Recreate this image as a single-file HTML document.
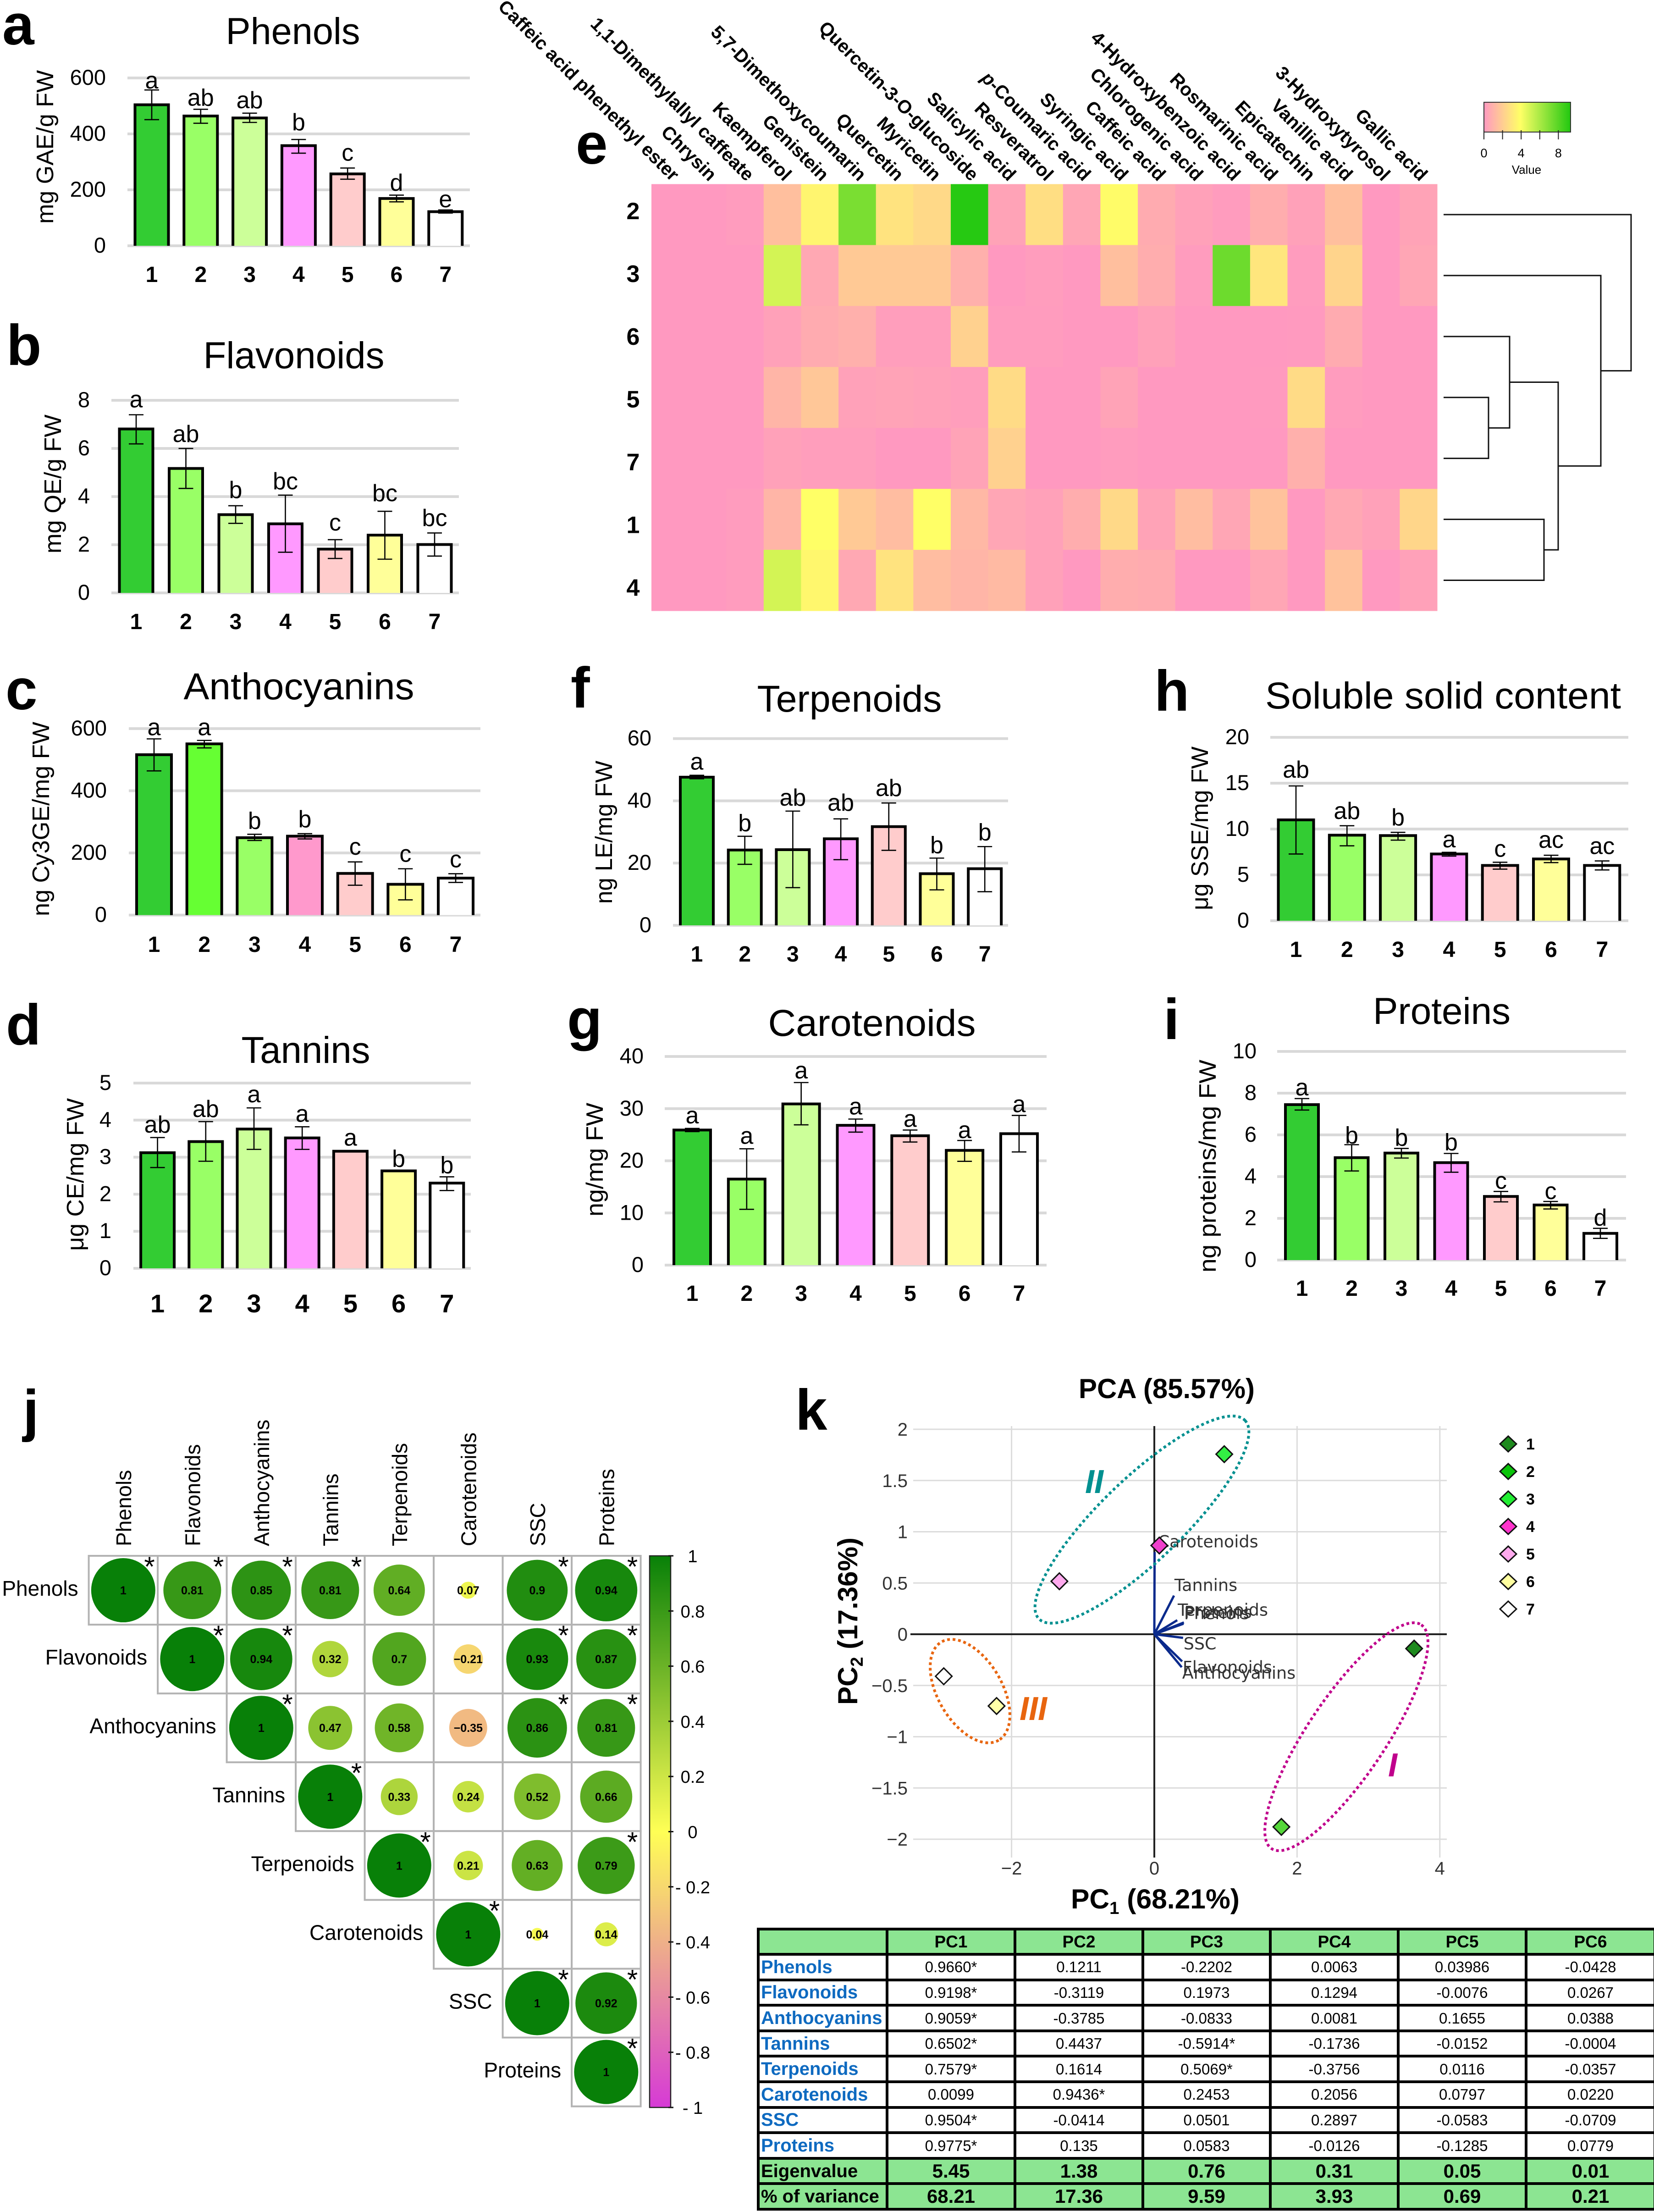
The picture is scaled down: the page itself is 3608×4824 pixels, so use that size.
<!DOCTYPE html>
<html lang="en">
<head>
<meta charset="utf-8">
<title>Phytochemical composition figure</title>
<style>
html,body{margin:0;padding:0;background:#fff;}
#page{position:relative;width:3608px;height:4824px;overflow:hidden;background:#fff;font-family:"Liberation Sans",sans-serif;}
#fig{position:absolute;left:0;top:0;}
svg text{font-family:"Liberation Sans",sans-serif;fill:#000;}
.pl{font-size:125px;font-weight:bold;}
.ti{font-size:82px;text-anchor:middle;}
.yt{font-size:52px;}
#pca-table{position:absolute;left:1651px;top:4203.5px;width:1956px;border-collapse:collapse;table-layout:fixed;font-family:"Liberation Sans",sans-serif;}
#pca-table tr{height:55.6px;}
#pca-table td{border:6px solid #000;padding:0;font-size:33px;line-height:1;text-align:center;vertical-align:middle;white-space:nowrap;overflow:hidden;background:#fff;color:#000;}
#pca-table tr.g td{background:#8ce592;}
#pca-table tr.h td{font-weight:bold;font-size:37px;}
#pca-table tr.e td{font-weight:bold;font-size:42px;}
#pca-table td.l{text-align:left;padding-left:3px;font-size:40px;font-weight:bold;color:#0e6ac0;}
#pca-table tr.e td.l{color:#000;font-size:40px;}
</style>
</head>
<body>
<div id="page">
<svg id="fig" width="3608" height="4824" viewBox="0 0 3608 4824" xmlns="http://www.w3.org/2000/svg">
<defs>
<linearGradient id="heatKeyGrad" x1="0" x2="1" y1="0" y2="0"><stop offset="0" stop-color="#ff99c0"/><stop offset="0.42" stop-color="#ffff66"/><stop offset="1" stop-color="#22c810"/></linearGradient>
<linearGradient id="corrGrad" x1="0" x2="0" y1="0" y2="1"><stop offset="0" stop-color="#088008"/><stop offset="0.5" stop-color="#ffff55"/><stop offset="1" stop-color="#d63ad6"/></linearGradient>
</defs>

<g id="chart-a">
<text class="pl" x="5" y="97">a</text>
<text class="ti" x="639" y="96" textLength="293" lengthAdjust="spacingAndGlyphs">Phenols</text>
<text class="yt" transform="rotate(-90 116 488)" x="116" y="488" textLength="335" lengthAdjust="spacingAndGlyphs">mg GAE/g FW</text>
</g>
<g id="chart-b">
<text class="pl" x="14" y="796">b</text>
<text class="ti" x="641" y="803" textLength="395" lengthAdjust="spacingAndGlyphs">Flavonoids</text>
<text class="yt" transform="rotate(-90 133 1207)" x="133" y="1207" textLength="303" lengthAdjust="spacingAndGlyphs">mg QE/g FW</text>
</g>
<g id="chart-c">
<text class="pl" x="12" y="1547">c</text>
<text class="ti" x="652" y="1525" textLength="503" lengthAdjust="spacingAndGlyphs">Anthocyanins</text>
<text class="yt" transform="rotate(-90 107 1998)" x="107" y="1998" textLength="424" lengthAdjust="spacingAndGlyphs">ng Cy3GE/mg FW</text>
</g>
<g id="chart-d">
<text class="pl" x="13" y="2278">d</text>
<text class="ti" x="667" y="2318" textLength="281" lengthAdjust="spacingAndGlyphs">Tannins</text>
<text class="yt" transform="rotate(-90 182 2728)" x="182" y="2728" textLength="333" lengthAdjust="spacingAndGlyphs">μg CE/mg FW</text>
</g>
<g id="chart-f">
<text class="pl" x="1245" y="1543">f</text>
<text class="ti" x="1853" y="1552" textLength="403" lengthAdjust="spacingAndGlyphs">Terpenoids</text>
<text class="yt" transform="rotate(-90 1335 1971)" x="1335" y="1971" textLength="312" lengthAdjust="spacingAndGlyphs">ng LE/mg FW</text>
</g>
<g id="chart-g">
<text class="pl" x="1237" y="2266">g</text>
<text class="ti" x="1902" y="2259" textLength="453" lengthAdjust="spacingAndGlyphs">Carotenoids</text>
<text class="yt" transform="rotate(-90 1315 2653)" x="1315" y="2653" textLength="248" lengthAdjust="spacingAndGlyphs">ng/mg FW</text>
</g>
<g id="chart-h">
<text class="pl" x="2518" y="1550">h</text>
<text class="ti" x="3148" y="1545" textLength="776" lengthAdjust="spacingAndGlyphs">Soluble solid content</text>
<text class="yt" transform="rotate(-90 2635 1985)" x="2635" y="1985" textLength="357" lengthAdjust="spacingAndGlyphs">μg SSE/mg FW</text>
</g>
<g id="chart-i">
<text class="pl" x="2538" y="2266">i</text>
<text class="ti" x="3145" y="2233" textLength="300" lengthAdjust="spacingAndGlyphs">Proteins</text>
<text class="yt" transform="rotate(-90 2652 2775)" x="2652" y="2775" textLength="464" lengthAdjust="spacingAndGlyphs">ng proteins/mg FW</text>
</g>

<g id="heatmap">
<text class="pl" x="1256" y="357">e</text>
<rect x="3237" y="223" width="189" height="65" fill="url(#heatKeyGrad)" stroke="#333" stroke-width="2"/>
<text x="3330" y="379" font-size="26" text-anchor="middle">Value</text>
</g>

<g id="corr">
<text class="pl" x="50" y="3119">j</text>
<rect x="1417" y="3393" width="46" height="1203" fill="url(#corrGrad)" stroke="#222" stroke-width="2.5"/>
</g>

<g id="pca">
<text class="pl" x="1735" y="3118">k</text>
<text x="2545" y="3049" font-size="60" font-weight="bold" text-anchor="middle" textLength="384" lengthAdjust="spacingAndGlyphs">PCA (85.57%)</text>
<text x="2336" y="4162" font-size="60" font-weight="bold" textLength="368" lengthAdjust="spacingAndGlyphs">PC<tspan font-size="38" dy="12">1</tspan><tspan dy="-12"> (68.21%)</tspan></text>
<text transform="rotate(-90 1870 3718)" x="1870" y="3718" font-size="60" font-weight="bold" textLength="365" lengthAdjust="spacingAndGlyphs">PC<tspan font-size="38" dy="12">2</tspan><tspan dy="-12"> (17.36%)</tspan></text>
</g>
</svg>

<table id="pca-table">
<colgroup><col style="width:281px"><col style="width:279px"><col style="width:279px"><col style="width:278px"><col style="width:279px"><col style="width:279px"><col style="width:281px"></colgroup>
<tr class="g h"><td></td><td>PC1</td><td>PC2</td><td>PC3</td><td>PC4</td><td>PC5</td><td>PC6</td></tr>
<tr><td class="l">Phenols</td><td>0.9660*</td><td>0.1211</td><td>-0.2202</td><td>0.0063</td><td>0.03986</td><td>-0.0428</td></tr>
<tr><td class="l">Flavonoids</td><td>0.9198*</td><td>-0.3119</td><td>0.1973</td><td>0.1294</td><td>-0.0076</td><td>0.0267</td></tr>
<tr><td class="l">Anthocyanins</td><td>0.9059*</td><td>-0.3785</td><td>-0.0833</td><td>0.0081</td><td>0.1655</td><td>0.0388</td></tr>
<tr><td class="l">Tannins</td><td>0.6502*</td><td>0.4437</td><td>-0.5914*</td><td>-0.1736</td><td>-0.0152</td><td>-0.0004</td></tr>
<tr><td class="l">Terpenoids</td><td>0.7579*</td><td>0.1614</td><td>0.5069*</td><td>-0.3756</td><td>0.0116</td><td>-0.0357</td></tr>
<tr><td class="l">Carotenoids</td><td>0.0099</td><td>0.9436*</td><td>0.2453</td><td>0.2056</td><td>0.0797</td><td>0.0220</td></tr>
<tr><td class="l">SSC</td><td>0.9504*</td><td>-0.0414</td><td>0.0501</td><td>0.2897</td><td>-0.0583</td><td>-0.0709</td></tr>
<tr><td class="l">Proteins</td><td>0.9775*</td><td>0.135</td><td>0.0583</td><td>-0.0126</td><td>-0.1285</td><td>0.0779</td></tr>
<tr class="g e"><td class="l">Eigenvalue</td><td>5.45</td><td>1.38</td><td>0.76</td><td>0.31</td><td>0.05</td><td>0.01</td></tr>
<tr class="g e"><td class="l">% of variance</td><td>68.21</td><td>17.36</td><td>9.59</td><td>3.93</td><td>0.69</td><td>0.21</td></tr>
</table>
</div>

<script>
// ---------- Bar chart data ----------
const barCategories = ['1','2','3','4','5','6','7'];

const phenolsTicks = [0,200,400,600];
const phenolsValues = [504,464,457,358,257,169,122];
const phenolsHigh = [557,488,474,380,278,181,128];
const phenolsLow = [451,438,441,331,238,157,117];
const phenolsLetters = ['a','ab','ab','b','c','d','e'];

const flavonoidsTicks = [0,2,4,6,8];
const flavonoidsValues = [6.81,5.17,3.25,2.87,1.82,2.40,2.01];
const flavonoidsHigh = [7.40,6.0,3.62,4.06,2.21,3.39,2.49];
const flavonoidsLow = [6.19,4.34,2.89,1.69,1.43,1.40,1.53];
const flavonoidsLetters = ['a','ab','b','bc','c','bc','bc'];

const anthocyaninsTicks = [0,200,400,600];
const anthocyaninsValues = [516,551,249,254,134,99,119];
const anthocyaninsHigh = [567,562,260,262,171,149,133];
const anthocyaninsLow = [464,538,240,245,96,49,105];
const anthocyaninsLetters = ['a','a','b','b','c','c','c'];

const tanninsTicks = [0,1,2,3,4,5];
const tanninsValues = [3.12,3.42,3.76,3.52,3.16,2.63,2.30];
const tanninsHigh = [3.53,3.96,4.33,3.82,3.16,2.63,2.47];
const tanninsLow = [2.72,2.89,3.21,3.21,3.16,2.63,2.10];
const tanninsLetters = ['ab','ab','a','a','a','b','b'];

const terpenoidsTicks = [0,20,40,60];
const terpenoidsValues = [47.6,24.2,24.3,27.8,31.7,16.6,18.2];
const terpenoidsHigh = [48.2,28.6,36.7,34.2,39.3,21.6,25.3];
const terpenoidsLow = [47.1,19.6,12.1,21.1,24.1,11.4,10.8];
const terpenoidsLetters = ['a','b','ab','ab','ab','b','b'];

const carotenoidsTicks = [0,10,20,30,40];
const carotenoidsValues = [25.9,16.5,30.9,26.8,24.8,22.0,25.2];
const carotenoidsHigh = [26.2,22.3,35.0,28.0,25.9,23.9,28.7];
const carotenoidsLow = [25.6,10.7,26.9,25.5,23.6,19.9,21.7];
const carotenoidsLetters = ['a','a','a','a','a','a','a'];

const sscTicks = [0,5,10,15,20];
const sscValues = [11.0,9.33,9.29,7.28,6.03,6.74,6.03];
const sscHigh = [14.7,10.36,9.64,7.46,6.38,7.14,6.52];
const sscLow = [7.28,8.17,8.79,7.05,5.63,6.34,5.54];
const sscLetters = ['ab','ab','b','a','c','ac','ac'];

const proteinsTicks = [0,2,4,6,8,10];
const proteinsValues = [7.45,4.91,5.13,4.67,3.05,2.64,1.28];
const proteinsHigh = [7.74,5.53,5.35,5.11,3.29,2.81,1.52];
const proteinsLow = [7.19,4.27,4.89,4.21,2.79,2.45,1.04];
const proteinsLetters = ['a','b','b','b','c','c','d'];

const barColors = ['#33cc33','#99ff66','#ccff99','#ff99ff','#ffcccc','#ffff99','#ffffff'];
const anthocyaninsColors = ['#33cc33','#66ff33','#99ff66','#ff99cc','#ffcccc','#ffff99','#ffffff'];

// ---------- Heatmap data ----------
const heatRows = ['2','3','6','5','7','1','4'];
const heatCols = ['Caffeic acid phenethyl ester','Chrysin','1,1-Dimethylallyl caffeate','Kaempferol','Genistein','5,7-Dimethoxycoumarin','Quercetin','Myricetin','Quercetin-3-O-glucoside','Salicylic acid','Resveratrol','p-Coumaric acid','Syringic acid','Caffeic acid','Chlorogenic acid','4-Hydroxybenzoic acid','Rosmarinic acid','Epicatechin','Vanillic acid','3-Hydroxytyrosol','Gallic acid'];
const heatRow2 = [0,0,0.1,1.5,3.6,7.0,2.9,2.5,8.9,0.4,2.7,0.5,3.9,0.7,0.3,0.1,0.8,0.3,1.5,0,0.4];
const heatRow3 = [0,0,0,5.0,0.6,1.9,1.9,1.9,0.9,0,0.15,0,1.5,0.8,0.1,7.3,3.0,0.1,2.3,0,0.5];
const heatRow6 = [0,0,0,0.3,0.7,0.9,0.2,0.2,2.2,0.1,0.1,0,0,0.3,0,0,0,0.05,0.7,0,0];
const heatRow5 = [0,0,0,1.1,1.8,0.3,0.4,0.3,0.2,2.6,0,0,0.4,0,0,0,0.05,2.6,0.1,0,0];
const heatRow7 = [0,0,0,0.3,0.2,0.2,0,0,0.4,2.2,0,0,0.1,0,0,0,0,0.9,0,0,0];
const heatRow1 = [0,0,0.1,1.1,4,1.9,1.4,4,1.2,0.5,0.3,0.8,2.5,0.4,1.4,0.5,1.6,0,0.6,0.3,2.4];
const heatRow4 = [0,0,0.1,5,3.7,0.6,2.9,1.4,1.1,1.3,0.3,0,0.8,0.7,0,0,0.5,0,1.6,0,0.3];
const heatKeyTicks = [0,2,4,6,8];
const heatKeyLabels = ['0','','4','','8'];
const dendroMergeLeft = [3,2,5,8,1,0];
const dendroMergeRight = [4,7,6,9,10,11];
const dendroMergeHeight = [0.98,1.44,2.19,2.50,3.43,4.09];

// ---------- Correlation data ----------
const corrLabels = ['Phenols','Flavonoids','Anthocyanins','Tannins','Terpenoids','Carotenoids','SSC','Proteins'];
const corrValues = [
 [1,0.81,0.85,0.81,0.64,0.07,0.9,0.94],
 [1,0.94,0.32,0.7,-0.21,0.93,0.87],
 [1,0.47,0.58,-0.35,0.86,0.81],
 [1,0.33,0.24,0.52,0.66],
 [1,0.21,0.63,0.79],
 [1,0.04,0.14],
 [1,0.92],
 [1]];
const corrSignificant = [
 [1,1,1,1,0,0,1,1],
 [1,1,0,0,0,1,1],
 [1,0,0,0,1,1],
 [1,0,0,0,0],
 [1,0,0,1],
 [1,0,0],
 [1,1],
 [1]];
const corrBarTicks = [1,0.8,0.6,0.4,0.2,0,-0.2,-0.4,-0.6,-0.8,-1];
const corrBarLabels = ['1','0.8','0.6','0.4','0.2','0','- 0.2','- 0.4','- 0.6','- 0.8','- 1'];

// ---------- PCA data ----------
const pcaXTicks = [-2,0,2,4];
const pcaXTickLabels = ['−2','0','2','4'];
const pcaYTicks = [2,1.5,1,0.5,0,-0.5,-1,-1.5,-2];
const pcaYTickLabels = ['2','1.5','1','0.5','0','−0.5','−1','−1.5','−2'];
const pcaSamples = ['1','2','3','4','5','6','7'];
const pcaScoreX = [3.64,1.78,0.98,0.07,-1.33,-2.21,-2.95];
const pcaScoreY = [-0.14,-1.88,1.757,0.866,0.517,-0.70,-0.41];
const pcaPointColors = ['#1e8a1e','#55d63a','#33ee44','#f040cc','#ffaaee','#ffffa8','#ffffff'];
const pcaLegendColors = ['#1e8a1e','#0bc40b','#22ee33','#ff33cc','#ffaaee','#ffffa0','#ffffff'];
const pcaVars = ['Phenols','Flavonoids','Anthocyanins','Tannins','Terpenoids','Carotenoids','SSC','Proteins'];
const pcaLoadPC1 = [0.9660,0.9198,0.9059,0.6502,0.7579,0.0099,0.9504,0.9775];
const pcaLoadPC2 = [0.1211,-0.3119,-0.3785,0.4437,0.1614,0.9436,-0.0414,0.135];

// ---------- Helpers ----------
const NS = 'http://www.w3.org/2000/svg';
function mk(parent, tag, attrs, text){
  const el = document.createElementNS(NS, tag);
  for (const k in attrs) el.setAttribute(k, attrs[k]);
  if (text !== undefined) el.textContent = text;
  parent.appendChild(el);
  return el;
}

function drawBars(groupId, key, L, ticks, values, high, low, letters, colors){
  const g = document.getElementById(groupId);
  const yTop = L.yTop, yZero = L.yZero, maxTick = ticks[ticks.length-1];
  const yScale = v => yZero - (v / maxTick) * (yZero - yTop);
  const xScale = i => L.first + L.step * i;
  ticks.forEach(function(t){
    const line = mk(g, 'line', {x1:L.x0, x2:L.x1, y1:yScale(t), y2:yScale(t), stroke:'#d9d9d9', 'stroke-width':6});
    
    
    const lab = mk(g, 'text', {x:L.tickRight, y:yScale(t)+15, 'font-size':47, 'text-anchor':'end'}, String(t));
    
    
  });
  barCategories.forEach(function(c, i){
    const cx = xScale(i), w = L.barW, top = yScale(values[i]);
    const bar = mk(g, 'path', {d:'M'+(cx-w/2)+' '+yZero+'V'+top+'H'+(cx+w/2)+'V'+yZero, fill:colors[i], stroke:'#000', 'stroke-width':6});
    
    
    const yh = yScale(high[i]), yl = yScale(low[i]);
    if (high[i] !== low[i]) {
      const err = mk(g, 'path', {d:'M'+cx+' '+yh+'V'+yl+'M'+(cx-16)+' '+yh+'H'+(cx+16)+'M'+(cx-16)+' '+yl+'H'+(cx+16), fill:'none', stroke:'#000', 'stroke-width':2.6});
      
      
    }
    const letter = mk(g, 'text', {x:cx+(L.ldx||0), y:yh-L.lift[i], 'font-size':52, 'text-anchor':'middle'}, letters[i]);
    
    
    const xl = mk(g, 'text', {x:cx, y:L.xLabelY+17, 'font-size':L.xFont||48, 'font-weight':'bold', 'text-anchor':'middle'}, c);
    
    
  });
}

drawBars('chart-a','phenols',{x0:278,x1:1025,yTop:170,yZero:536,first:331,step:106.8,barW:73,tickRight:231,xLabelY:598,lift:[3,8,11,20,16,9.5,6]},phenolsTicks,phenolsValues,phenolsHigh,phenolsLow,phenolsLetters,barColors);
drawBars('chart-b','flavonoids',{x0:243,x1:1001,yTop:873,yZero:1293,first:297,step:108.5,barW:73,tickRight:196,xLabelY:1355,lift:[16,14,17,13,20,22,15.5]},flavonoidsTicks,flavonoidsValues,flavonoidsHigh,flavonoidsLow,flavonoidsLetters,barColors);
drawBars('chart-c','anthocyanins',{x0:281,x1:1048,yTop:1589,yZero:1995.6,first:336,step:109.67,barW:76,tickRight:233,xLabelY:2059,lift:[8,11.5,12,14,15.5,15,14]},anthocyaninsTicks,anthocyaninsValues,anthocyaninsHigh,anthocyaninsLow,anthocyaninsLetters,anthocyaninsColors);
drawBars('chart-d','tannins',{x0:291,x1:1027,yTop:2362,yZero:2766,first:343.6,step:105.2,barW:73,tickRight:243,xLabelY:2845,xFont:56,lift:[11,10,12,11,12,9,8]},tanninsTicks,tanninsValues,tanninsHigh,tanninsLow,tanninsLetters,barColors);
drawBars('chart-f','terpenoids',{x0:1468,x1:2199,yTop:1610.7,yZero:2018,first:1520,step:104.7,barW:72,tickRight:1421,xLabelY:2080,lift:[12.5,11.5,12,18,15,11,14]},terpenoidsTicks,terpenoidsValues,terpenoidsHigh,terpenoidsLow,terpenoidsLetters,barColors);
drawBars('chart-g','carotenoids',{x0:1450,x1:2283,yTop:2304,yZero:2759,first:1510,step:118.83,barW:80,tickRight:1404,xLabelY:2820,lift:[11,11,9,10,7,5,7]},carotenoidsTicks,carotenoidsValues,carotenoidsHigh,carotenoidsLow,carotenoidsLetters,barColors);
drawBars('chart-h','ssc',{x0:2771,x1:3552,yTop:1608,yZero:2008,first:2827,step:111.3,barW:77,tickRight:2725,xLabelY:2070,lift:[18,15,15,11,12,16,15]},sscTicks,sscValues,sscHigh,sscLow,sscLetters,barColors);
drawBars('chart-i','proteins',{x0:2786,x1:3547,yTop:2293,yZero:2748,first:2840,step:108.5,barW:72,tickRight:2741,xLabelY:2809,lift:[7,3,6,7,6,5,6]},proteinsTicks,proteinsValues,proteinsHigh,proteinsLow,proteinsLetters,barColors);

// ---------- Heatmap ----------
(function(){
  const g = document.getElementById('heatmap');
  const heatValues = [heatRow2,heatRow3,heatRow6,heatRow5,heatRow7,heatRow1,heatRow4];
  const left = 1421, top = 401.5, cw = (3135-1421)/21, ch = (1332-401.5)/7;
  const stops = [[0,[255,153,192]],[4,[255,255,102]],[9,[34,200,16]]];
  function heatColor(v){
    let a = stops[0], b = stops[1];
    if (v > 4) { a = stops[1]; b = stops[2]; }
    const t = Math.max(0, Math.min(1, (v-a[0])/(b[0]-a[0])));
    const c = a[1].map(function(x,i){ return Math.round(x+(b[1][i]-x)*t); });
    return 'rgb('+c.join(',')+')';
  }
  heatValues.forEach(function(row, r){
    const lab = mk(g,'text',{x:1381,y:460+136.9*r+18,'font-size':52,'font-weight':'bold','text-anchor':'middle'},heatRows[r]);
    
    
    row.forEach(function(v, c){
      const cell = mk(g,'rect',{x:left+cw*c,y:top+ch*r,width:cw+0.5,height:ch+0.5,fill:heatColor(v)});
      
      
    });
  });
  heatCols.forEach(function(name, c){
    const ax = left+cw*(c+0.5)+3, ay = 397;
    const t = mk(g,'text',{x:ax,y:ay,'font-size':40.5,'font-weight':'bold','text-anchor':'end',transform:'rotate(45 '+ax+' '+ay+')'});
    if (name.indexOf('p-') === 0) {
      mk(t,'tspan',{'font-style':'italic'},'p');
      mk(t,'tspan',{},name.slice(1));
    } else {
      t.textContent = name;
    }
    
    
  });
  // dendrogram
  const rowY = i => top + ch*(i+0.5);
  const hx = h => 3149 + h*100;
  const nodeY = heatRows.map(function(_,i){ return rowY(i); });
  const nodeH = heatRows.map(function(){ return 0; });
  dendroMergeHeight.forEach(function(h, m){
    const a = dendroMergeLeft[m], b = dendroMergeRight[m];
    const d = 'M'+hx(nodeH[a])+' '+nodeY[a]+'H'+hx(h)+'V'+nodeY[b]+'H'+hx(nodeH[b]);
    const p = mk(g,'path',{d:d,fill:'none',stroke:'#111','stroke-width':3});
    
    
    nodeY.push((nodeY[a]+nodeY[b])/2);
    nodeH.push(h);
  });
  // key ticks
  const kx = v => 3237 + v*20.3;
  heatKeyTicks.forEach(function(v,i){
    const tk = mk(g,'line',{x1:kx(v),x2:kx(v),y1:284,y2:304,stroke:'#222','stroke-width':2});
    
    
    if (heatKeyLabels[i]) {
      const tl = mk(g,'text',{x:kx(v),y:343,'font-size':27,'text-anchor':'middle'},heatKeyLabels[i]);
      
      
    }
  });
})();

// ---------- Correlation ----------
(function(){
  const g = document.getElementById('corr');
  const left = 193.6, top = 3393, cw = 150.5, ch = 150.08, Rmax = 70;
  function corrColor(v){
    const y = [255,255,85], e = v >= 0 ? [8,128,8] : [214,58,214];
    const t = Math.abs(v);
    return 'rgb('+y.map(function(x,i){ return Math.round(x+(e[i]-x)*t); }).join(',')+')';
  }
  corrLabels.forEach(function(name,i){
    const bx = left+cw*(i+0.5)+17;
    const t = mk(g,'text',{x:bx,y:3372,'font-size':46,transform:'rotate(-90 '+bx+' 3372)'},name);
    
    
    const r = mk(g,'text',{x:left+cw*i-23,y:top+ch*(i+0.5)+12,'font-size':46,'text-anchor':'end'},name);
    
    
  });
  corrValues.forEach(function(row,r){
    row.forEach(function(v,k){
      const c = r+k;
      const x = left+cw*c, y = top+ch*r;
      const cell = mk(g,'rect',{x:x,y:y,width:cw,height:ch,fill:'#fff',stroke:'#b3b3b3','stroke-width':4});
      
      
    });
  });
  corrValues.forEach(function(row,r){
    row.forEach(function(v,k){
      const c = r+k;
      const x = left+cw*c, y = top+ch*r, cx = x+cw/2, cy = y+ch/2;
      const dot = mk(g,'circle',{cx:cx,cy:cy,r:Rmax*Math.sqrt(Math.abs(v)),fill:corrColor(v)});
      
      
      const txt = v < 0 ? '−'+Math.abs(v) : String(v);
      const n = mk(g,'text',{x:cx,y:cy+9,'font-size':25,'font-weight':'bold','text-anchor':'middle'},txt);
      
      
      if (corrSignificant[r][k]) {
        const s = mk(g,'text',{x:x+cw-18,y:y+44,'font-size':60,'text-anchor':'middle'},'*');
        
        
      }
    });
  });
  const barY = v => 3393 + (1-v)/2*1203;
  corrBarTicks.forEach(function(v,i){
    const tk = mk(g,'line',{x1:1458,x2:1469,y1:barY(v),y2:barY(v),stroke:'#111','stroke-width':3});
    
    
    const lb = mk(g,'text',{x:1511,y:barY(v)+14,'font-size':38,'text-anchor':'middle'},corrBarLabels[i]);
    
    
  });
})();

// ---------- PCA ----------
(function(){
  const g = document.getElementById('pca');
  const px = v => 2518 + v*155.7;
  const py = v => 3564 - v*223.5;
  pcaYTicks.forEach(function(v,i){
    const gl = mk(g,'line',{x1:1992,x2:3156,y1:py(v),y2:py(v),stroke:'#dcdcdc','stroke-width':3});
    
    
    const t = mk(g,'text',{x:1980,y:py(v)+14,'font-size':40,'text-anchor':'end',style:'fill:#333'},pcaYTickLabels[i]);
    
    
  });
  pcaXTicks.forEach(function(v,i){
    const gl = mk(g,'line',{x1:px(v),x2:px(v),y1:3110,y2:4051,stroke:'#dcdcdc','stroke-width':3});
    
    
    const t = mk(g,'text',{x:px(v),y:4088,'font-size':40,'text-anchor':'middle',style:'fill:#333'},pcaXTickLabels[i]);
    
    
  });
  const ax1 = mk(g,'line',{x1:1986,x2:3156,y1:py(0),y2:py(0),stroke:'#222','stroke-width':4});
  
  
  const ax2 = mk(g,'line',{x1:px(0),x2:px(0),y1:3110,y2:4051,stroke:'#222','stroke-width':4});
  
  

  const loadX = 66/155.7, loadY = 190/223.5;
  pcaVars.forEach(function(name,i){
    const tx = px(pcaLoadPC1[i]*loadX), ty = py(pcaLoadPC2[i]*loadY);
    const v = mk(g,'line',{x1:px(0),y1:py(0),x2:tx,y2:ty,stroke:'#0a2a8c','stroke-width':5});
    
    
  });
  pcaVars.forEach(function(name,i){
    const tx = px(pcaLoadPC1[i]*loadX), ty = py(pcaLoadPC2[i]*loadY);
    const dx = name === 'Carotenoids' ? 7 : 1;
    const dy = pcaLoadPC2[i] > 0 ? -10 : 25;
    const t = mk(g,'text',{x:tx+dx,y:ty+dy,'font-size':36.5,style:'font-family:"DejaVu Sans",sans-serif;fill:#333'},name);
    
    
  });

  const e1 = mk(g,'ellipse',{cx:2491,cy:3314,rx:312,ry:90,transform:'rotate(-43.9 2491 3314)',fill:'none',stroke:'#009090','stroke-width':6,'stroke-dasharray':'6 6'});
  
  
  const e2 = mk(g,'ellipse',{cx:2937,cy:3787.5,rx:293.6,ry:85,transform:'rotate(-56.2 2937 3787.5)',fill:'none',stroke:'#c0008c','stroke-width':6,'stroke-dasharray':'6 6'});
  
  
  const e3 = mk(g,'ellipse',{cx:2116,cy:3688,rx:124,ry:70,transform:'rotate(59.8 2116 3688)',fill:'none',stroke:'#e8650f','stroke-width':6,'stroke-dasharray':'6 6'});
  
  

  const r2 = mk(g,'text',{x:2387,y:3256,'font-size':72,'font-weight':'bold','font-style':'italic','text-anchor':'middle',style:'fill:#009090'},'II');
  
  
  const r3 = mk(g,'text',{x:2254,y:3751,'font-size':72,'font-weight':'bold','font-style':'italic','text-anchor':'middle',style:'fill:#e8650f'},'III');
  
  
  const r1 = mk(g,'text',{x:3038,y:3874,'font-size':72,'font-weight':'bold','font-style':'italic','text-anchor':'middle',style:'fill:#c0008c'},'I');
  
  

  function diamond(cx,cy,hw,hh){ return (cx-hw)+','+cy+' '+cx+','+(cy-hh)+' '+(cx+hw)+','+cy+' '+cx+','+(cy+hh); }
  pcaSamples.forEach(function(s,i){
    const d = mk(g,'polygon',{points:diamond(px(pcaScoreX[i]),py(pcaScoreY[i]),18,18),fill:pcaPointColors[i],stroke:'#111','stroke-width':3});
    
    
    const ly = 3149 + 60*i;
    const ld = mk(g,'polygon',{points:diamond(3290,ly,18,17),fill:pcaLegendColors[i],stroke:'#111','stroke-width':3});
    
    
    const lt = mk(g,'text',{x:3329,y:ly+12,'font-size':34,'font-weight':'bold'},s);
    
    
  });
})();
</script>
</body>
</html>
